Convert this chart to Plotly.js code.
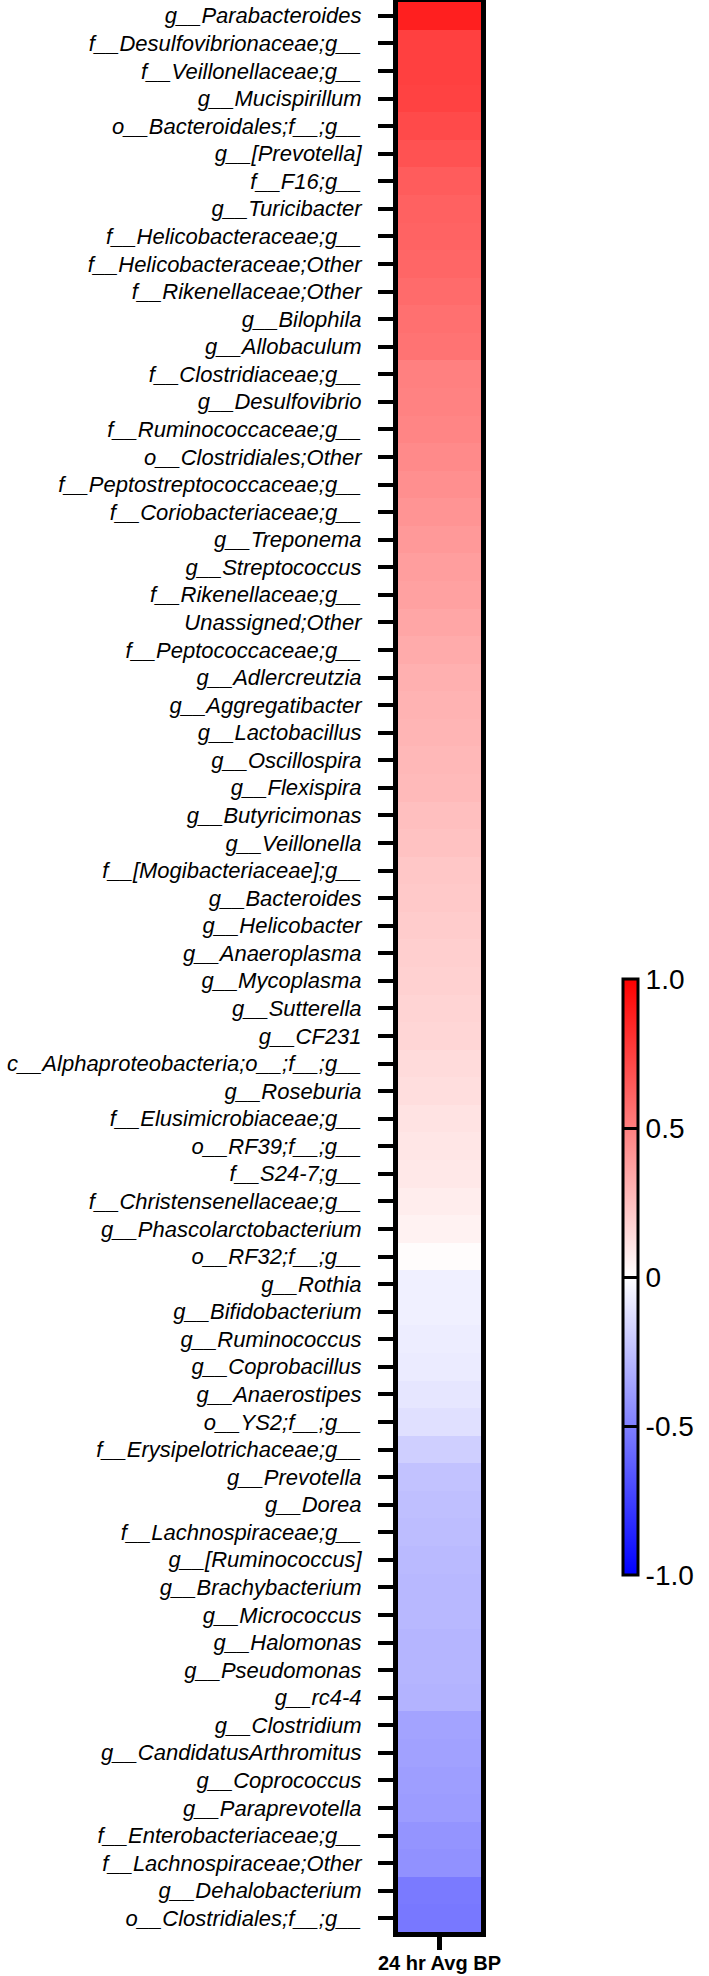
<!DOCTYPE html>
<html>
<head>
<meta charset="utf-8">
<script src="https://cdn.plot.ly/plotly-3.0.1.min.js"></script>
<style>html,body{margin:0;padding:0;background:#fff;}#chart{width:709px;height:1976px;}</style>
</head>
<body>
<div id="chart"></div>
<script>
const taxa = [
  "g__Parabacteroides","f__Desulfovibrionaceae;g__","f__Veillonellaceae;g__","g__Mucispirillum",
  "o__Bacteroidales;f__;g__","g__[Prevotella]","f__F16;g__","g__Turicibacter",
  "f__Helicobacteraceae;g__","f__Helicobacteraceae;Other","f__Rikenellaceae;Other","g__Bilophila",
  "g__Allobaculum","f__Clostridiaceae;g__","g__Desulfovibrio","f__Ruminococcaceae;g__",
  "o__Clostridiales;Other","f__Peptostreptococcaceae;g__","f__Coriobacteriaceae;g__","g__Treponema",
  "g__Streptococcus","f__Rikenellaceae;g__","Unassigned;Other","f__Peptococcaceae;g__",
  "g__Adlercreutzia","g__Aggregatibacter","g__Lactobacillus","g__Oscillospira",
  "g__Flexispira","g__Butyricimonas","g__Veillonella","f__[Mogibacteriaceae];g__",
  "g__Bacteroides","g__Helicobacter","g__Anaeroplasma","g__Mycoplasma",
  "g__Sutterella","g__CF231","c__Alphaproteobacteria;o__;f__;g__","g__Roseburia",
  "f__Elusimicrobiaceae;g__","o__RF39;f__;g__","f__S24-7;g__","f__Christensenellaceae;g__",
  "g__Phascolarctobacterium","o__RF32;f__;g__","g__Rothia","g__Bifidobacterium",
  "g__Ruminococcus","g__Coprobacillus","g__Anaerostipes","o__YS2;f__;g__",
  "f__Erysipelotrichaceae;g__","g__Prevotella","g__Dorea","f__Lachnospiraceae;g__",
  "g__[Ruminococcus]","g__Brachybacterium","g__Micrococcus","g__Halomonas",
  "g__Pseudomonas","g__rc4-4","g__Clostridium","g__CandidatusArthromitus",
  "g__Coprococcus","g__Paraprevotella","f__Enterobacteriaceae;g__","f__Lachnospiraceae;Other",
  "g__Dehalobacterium","o__Clostridiales;f__;g__"
];
const correlation = [
  0.88, 0.75, 0.75, 0.74, 0.71, 0.68, 0.64, 0.62,
  0.61, 0.60, 0.58, 0.56, 0.55, 0.50, 0.49, 0.48,
  0.46, 0.44, 0.42, 0.40, 0.38, 0.37, 0.35, 0.33,
  0.31, 0.30, 0.29, 0.28, 0.27, 0.25, 0.24, 0.22,
  0.21, 0.20, 0.19, 0.18, 0.17, 0.16, 0.14, 0.13,
  0.11, 0.10, 0.09, 0.07, 0.05, 0.01, -0.06, -0.06,
  -0.07, -0.08, -0.10, -0.12, -0.19, -0.24, -0.25, -0.26,
  -0.27, -0.28, -0.28, -0.29, -0.29, -0.30, -0.36, -0.37,
  -0.38, -0.39, -0.42, -0.43, -0.52, -0.53
];
const columns = ["24 hr Avg BP"];
const cbTickVals = [-1, -0.5, 0, 0.5, 1];
const cbTickText = ["-1.0", "-0.5", "0", "0.5", "1.0"];

const FONT = "Liberation Sans, Arial, Helvetica, sans-serif";

// plot area in pixels
const L = 398, R = 482, T = 2, B = 1932;
const W = 709, H = 1976;
const plotW = R - L, plotH = B - T;
// colour bar geometry in pixels
const cbLeft = 623, cbTop = 979, cbBottom = 1575;
const xLabelCenter = 1963;

const trace = {
  type: "heatmap",
  x: columns,
  y: taxa,
  z: correlation.map(v => [v]),
  zmin: -1, zmax: 1,
  colorscale: [[0, "rgb(0,0,255)"], [0.5, "rgb(255,255,255)"], [1, "rgb(255,0,0)"]],
  colorbar: {
    x: (cbLeft - L) / plotW, xanchor: "left",
    y: (B - (cbTop + cbBottom) / 2) / plotH, yanchor: "middle",
    lenmode: "fraction", len: (cbBottom - cbTop) / plotH,
    thickness: 15,
    outlinewidth: 3, outlinecolor: "#000",
    tickmode: "array", tickvals: cbTickVals, ticktext: cbTickText,
    ticks: "inside", ticklen: 15, tickwidth: 3, tickcolor: "#000",
    tickfont: {family: FONT, size: 28, color: "#000"},
    xpad: 0, ypad: 0
  }
};

const layout = {
  width: W, height: H,
  margin: {l: L, r: W - R, t: T, b: H - B, pad: 0},
  paper_bgcolor: "#fff", plot_bgcolor: "#fff",
  xaxis: {
    type: "category", range: [-0.5, 0.5], autorange: false,
    showline: true, mirror: true, linewidth: 5, linecolor: "#000",
    ticks: "outside", ticklen: 13, tickwidth: 5, tickcolor: "#000",
    showticklabels: false,
    showgrid: false, zeroline: false, fixedrange: true
  },
  yaxis: {
    autorange: "reversed",
    showline: true, mirror: true, linewidth: 5, linecolor: "#000",
    ticks: "outside", ticklen: 15, tickwidth: 4, tickcolor: "#000",
    ticklabelstandoff: 12,
    tickfont: {family: FONT, size: 22, color: "#000", style: "italic"},
    showgrid: false, zeroline: false, fixedrange: true
  },
  annotations: [{
    xref: "paper", x: 0.5, xanchor: "center",
    yref: "paper", y: (B - xLabelCenter) / plotH, yanchor: "middle",
    text: columns[0], showarrow: false,
    font: {family: FONT, size: 20, color: "#000", weight: "bold"}
  }],
  showlegend: false
};

Plotly.newPlot("chart", [trace], layout, {staticPlot: true, displayModeBar: false});
</script>
</body>
</html>
